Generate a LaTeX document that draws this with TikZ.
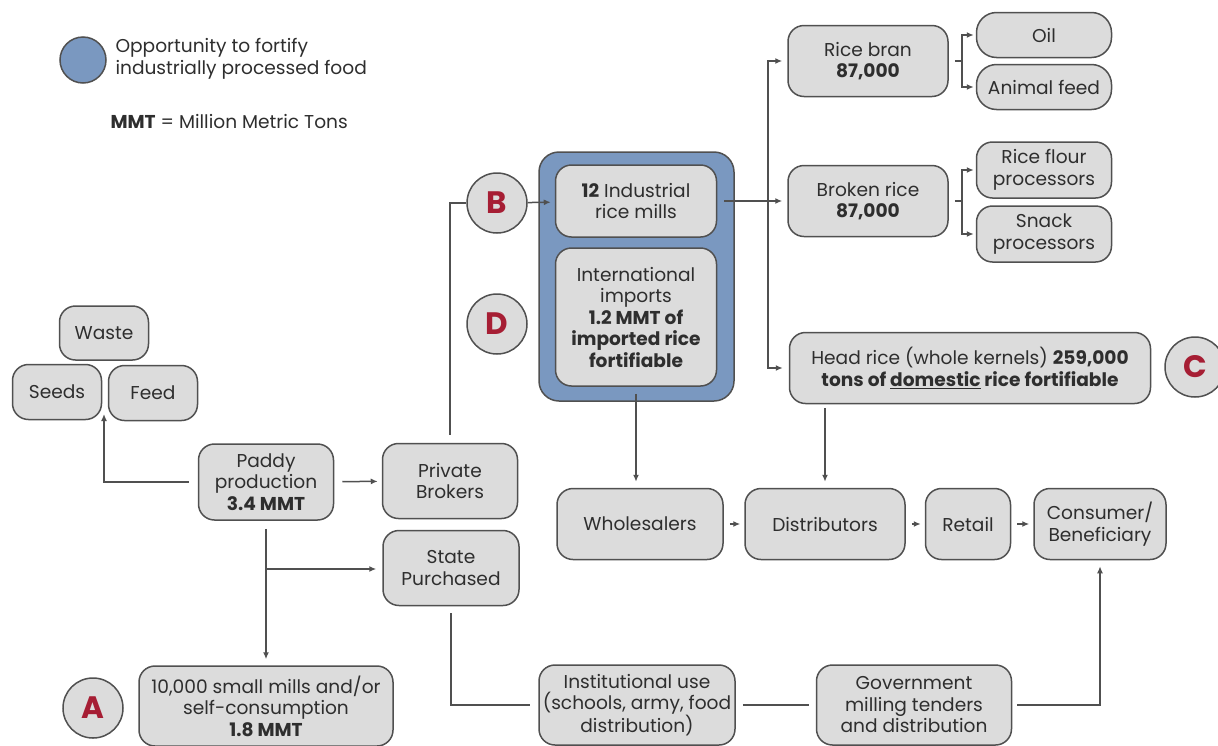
\documentclass[tikz,border=0pt]{standalone}
\usepackage{fontspec}
\setmainfont{Poppins}
\usetikzlibrary{positioning}
\usetikzlibrary{calc}
\usetikzlibrary{arrows.meta}
\definecolor{boxgray}{RGB}{220,220,220}
\definecolor{edgegray}{RGB}{80,80,80}
\definecolor{optblue}{RGB}{122,152,192}
\definecolor{letterred}{RGB}{166,30,52}

\begin{document}
\begin{tikzpicture}[x=1pt, y=-1pt, >={Latex[length=7pt,width=6pt]},
    box/.style={draw=edgegray, fill=boxgray, line width=1.5pt, rounded corners=16pt,
        align=center, inner sep=0pt, text=black!82, font=\fontsize{18.6}{21.5}\selectfont},
    dims/.style 2 args={minimum width=#1pt, minimum height=#2pt},
    tag/.style={draw=edgegray, fill=boxgray, circle, line width=1.5pt, minimum size=60pt,
        inner sep=0pt, text=letterred, font=\fontsize{31}{31}\selectfont\bfseries},
    link/.style={draw=edgegray, line width=1.5pt},
    flow/.style={link, ->}]
    \useasboundingbox (0,0) rectangle (1218,745);

    % legend
    \node[circle, draw=edgegray, fill=optblue, line width=1.5pt, minimum size=46pt] (legend) at (83,60) {};
    \node[anchor=west, align=left, text=black!82, font=\fontsize{18.6}{21.5}\selectfont] (legendtxt) at (112,59)
        {Opportunity to fortify\\industrially processed food};
    \node[anchor=west, text=black!82, font=\fontsize{18.6}{21.5}\selectfont] (mmt) at (107,122) {\textbf{MMT} = Million Metric Tons};

    % paddy and its uses
    \node[box, dims={89}{54}] (waste) at (104,333) {Waste};
    \node[box, dims={89}{55}] (seeds) at (57,392) {Seeds};
    \node[box, dims={89}{55}] (feed) at (153,393) {Feed};
    \node[box, dims={135}{76}] (paddy) at (266,482) {Paddy\\production\\\textbf{3.4 MMT}};
    \node[box, dims={135}{75}] (brokers) at (450,481) {Private\\Brokers};
    \node[box, dims={136}{75}] (state) at (451,568) {State\\Purchased};
    \node[box, dims={254}{80}] (smallmills) at (266,706) {10,000 small mills and/or\\self-consumption\\\textbf{1.8 MMT}};

    % fortification opportunity
    \node[draw=edgegray, fill=optblue, line width=1.5pt, rounded corners=20pt, dims={195}{249}] (fortbox) at (636.5,276.5) {};
    \node[box, dims={161}{72}] (mills) at (636,201) {\textbf{12} Industrial\\rice mills};
    \node[box, dims={161}{138}] (imports) at (636,317) {International\\imports\\\textbf{1.2 MMT of}\\\textbf{imported rice}\\\textbf{fortifiable}};

    % milling products
    \node[box, dims={160}{71}] (ricebran) at (868,61) {Rice bran\\\textbf{87,000}};
    \node[box, dims={160}{71}] (brokenrice) at (868,201) {Broken rice\\\textbf{87,000}};
    \node[box, rounded corners=20pt, dims={135}{45}] (oil) at (1044,35) {Oil};
    \node[box, rounded corners=20pt, dims={135}{45}] (animalfeed) at (1044,87) {Animal feed};
    \node[box, dims={135}{56}] (riceflour) at (1044,170) {Rice flour\\processors};
    \node[box, dims={135}{56}] (snack) at (1044,234) {Snack\\processors};
    \node[box, dims={361}{71}] (headrice) at (970,368) {Head rice (whole kernels) \textbf{259,000}\\\textbf{tons of \underline{domestic} rice fortifiable}};

    % market chain
    \node[box, dims={166}{71}] (wholesalers) at (640,524) {Wholesalers};
    \node[box, dims={160}{71}] (distributors) at (825,524) {Distributors};
    \node[box, dims={85}{71}] (retail) at (968,524) {Retail};
    \node[box, dims={132}{71}] (consumer) at (1100,524) {Consumer/\\Beneficiary};
    \node[box, dims={196}{80}] (institutional) at (637,705) {Institutional use\\(schools, army, food\\distribution)};
    \node[box, dims={195}{80}] (government) at (914,705) {Government\\milling tenders\\and distribution};

    % entry points
    \node[tag] (A) at (93,708) {A};
    \node[tag] (B) at (497,203) {B};
    \node[tag] (C) at (1195,367) {C};
    \node[tag] (D) at (497,324) {D};

    % connectors
    \coordinate (sfgap) at (104,414);
    \coordinate (branch) at (266,569);
    \coordinate (trunk) at (768,201);
    \coordinate (branfork) at (962,61);
    \coordinate (brokenfork) at (962,201);

    \draw[flow, shorten <=9pt] (paddy.west) -| (sfgap);
    \draw[flow, shorten <=8pt, shorten >=4pt] (paddy) -- (brokers);
    \draw[flow, shorten <=8pt, shorten >=6pt] (paddy) -- (smallmills);
    \draw[flow, shorten >=6pt] (branch) -- (branch -| state.west);
    \draw[link, shorten <=8pt] (brokers.north) |- (B.west);
    \draw[flow, shorten >=4pt] (B) -- (mills);
    \draw[link, shorten <=7pt] (mills.east) -- (trunk);
    \draw[flow, shorten >=5pt] (trunk) |- (ricebran.west);
    \draw[flow, shorten >=5pt] (trunk) -- (brokenrice.west);
    \draw[flow, shorten >=6pt] (trunk) |- (headrice.west);
    \draw[link, shorten <=6pt] (ricebran.east) -- (branfork);
    \draw[flow, shorten >=2pt] (branfork) |- (oil.west);
    \draw[flow, shorten >=2pt] (branfork) |- (animalfeed.west);
    \draw[link, shorten <=6pt] (brokenrice.east) -- (brokenfork);
    \draw[flow, shorten >=2pt] (brokenfork) |- (riceflour.west);
    \draw[flow, shorten >=2pt] (brokenfork) |- (snack.west);
    \draw[flow, shorten <=7pt, shorten >=6pt] (imports.south) -- (wholesalers.north -| imports.south);
    \draw[flow, shorten <=4pt, shorten >=6pt] (distributors.north |- headrice.south) -- (distributors.north);
    \draw[flow, shorten <=6pt, shorten >=4pt] (wholesalers) -- (distributors);
    \draw[flow, shorten <=6pt, shorten >=4pt] (distributors) -- (retail);
    \draw[flow, shorten <=6pt, shorten >=4pt] (retail) -- (consumer);
    \draw[link, shorten <=7pt, shorten >=8pt] (state.south) |- (institutional.west);
    \draw[link, shorten <=7pt, shorten >=7pt] (institutional) -- (government);
    \draw[flow, shorten <=5pt, shorten >=6pt] (government.east) -| (consumer.south);
\end{tikzpicture}
\end{document}
